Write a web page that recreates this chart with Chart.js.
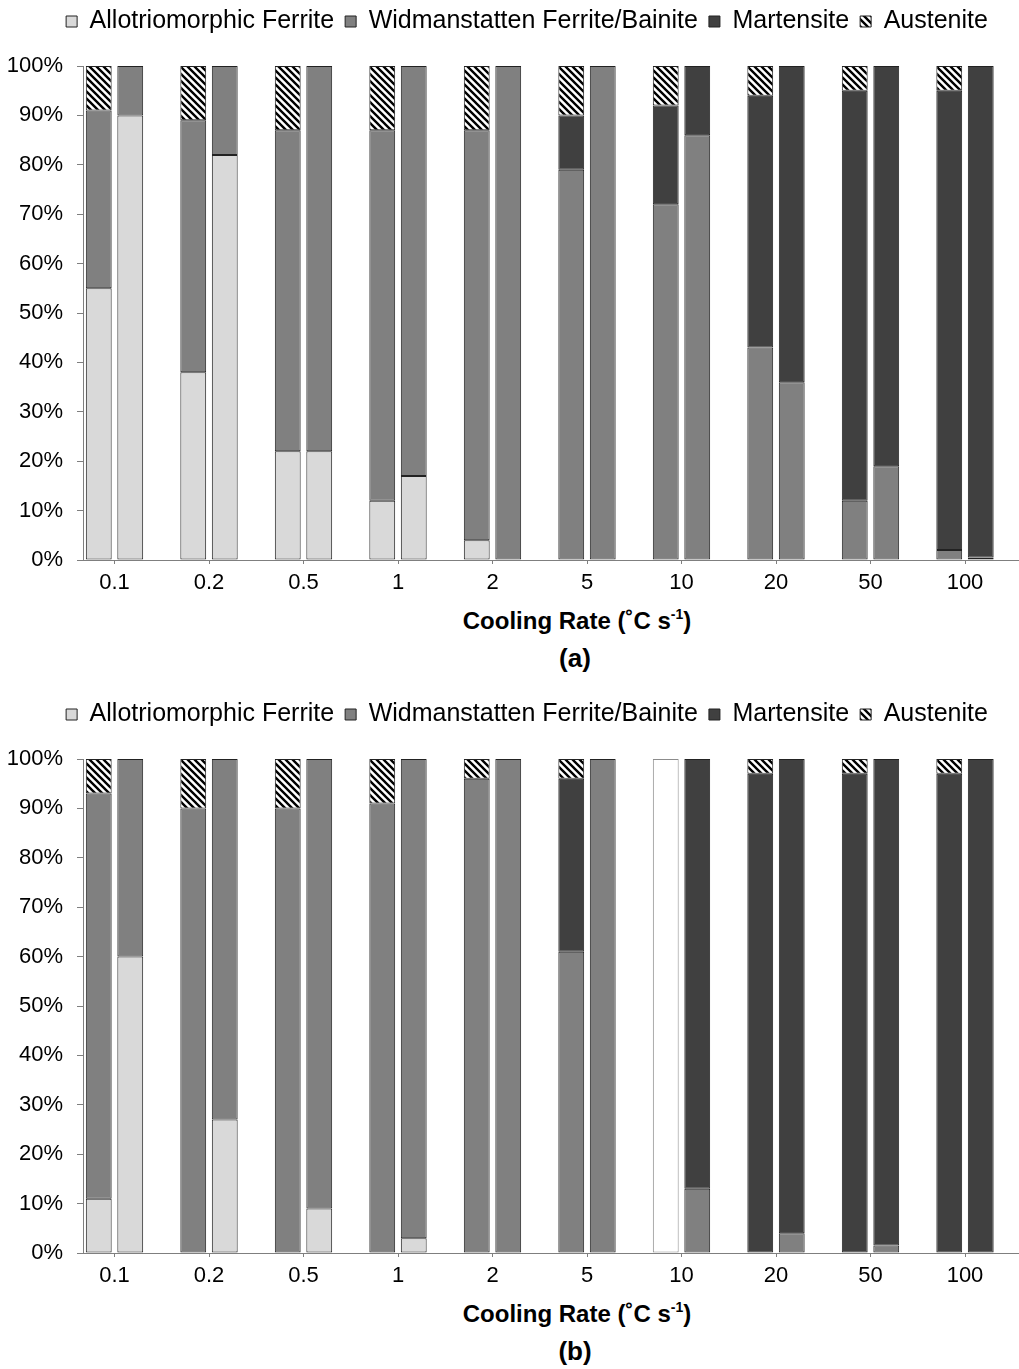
<!DOCTYPE html>
<html lang="en">
<head>
<meta charset="utf-8">
<title>Phase fractions versus cooling rate</title>
<script src="https://cdn.jsdelivr.net/npm/chart.js@4.4.1/dist/chart.umd.min.js"></script>
<style>
  html, body { margin: 0; padding: 0; background: #fff; }
  body { width: 1019px; height: 1369px; overflow: hidden; position: relative;
         font-family: "Liberation Sans", Arial, sans-serif; color: #000; }
  .panel { position: absolute; left: 0; width: 1030px; height: 693px; }
  .panel canvas { position: absolute; left: 0; top: -2px; }
  .axis-title { position: absolute; left: 0; width: 1154px; top: 606px; text-align: center;
                font-weight: bold; font-size: 24px; line-height: 30px; }
  .axis-title sup { font-size: 14px; line-height: 0; vertical-align: 10px; }
  .caption { position: absolute; left: 0; width: 1150px; top: 643px; text-align: center;
             font-weight: bold; font-size: 26px; line-height: 30px; }
</style>
</head>
<body>
<div class="panel" style="top:0px">
  <canvas id="chartA" width="1030" height="602"></canvas>
  <div class="axis-title">Cooling Rate (˚C s<sup>-1</sup>)</div>
  <div class="caption">(a)</div>
</div>
<div class="panel" style="top:693px">
  <canvas id="chartB" width="1030" height="602"></canvas>
  <div class="axis-title">Cooling Rate (˚C s<sup>-1</sup>)</div>
  <div class="caption">(b)</div>
</div>

<script>
// Cooling rates (°C/s) on the category axis
const coolingRates = ['0.1', '0.2', '0.5', '1', '2', '5', '10', '20', '50', '100'];
// Percentage tick labels on the value axis
const percentTicks = ['0%', '10%', '20%', '30%', '40%', '50%', '60%', '70%', '80%', '90%', '100%'];

// Panel (a) - left bar of each pair (phase fractions, %)
const aLeftAllotriomorphic = [55, 38, 22, 12, 4, 0, 0, 0, 0, 0];
const aLeftWidmanstatten   = [36, 51, 65, 75, 83, 79, 72, 43, 12, 2];
const aLeftMartensite      = [0, 0, 0, 0, 0, 11, 20, 51, 83, 93];
const aLeftAustenite       = [9, 11, 13, 13, 13, 10, 8, 6, 5, 5];
// Panel (a) - right bar of each pair
const aRightAllotriomorphic = [90, 82, 22, 17, 0, 0, 0, 0, 0, 0];
const aRightWidmanstatten   = [10, 18, 78, 83, 100, 100, 86, 36, 19, 0.5];
const aRightMartensite      = [0, 0, 0, 0, 0, 0, 14, 64, 81, 99.5];
const aRightAustenite       = [0, 0, 0, 0, 0, 0, 0, 0, 0, 0];

// Panel (b) - left bar of each pair
const bLeftAllotriomorphic = [11, 0, 0, 0, 0, 0, 0, 0, 0, 0];
const bLeftWidmanstatten   = [82, 90, 90, 91, 96, 61, 0, 0, 0, 0];
const bLeftMartensite      = [0, 0, 0, 0, 0, 35, 0, 97, 97, 97];
const bLeftAustenite       = [7, 10, 10, 9, 4, 4, 0, 3, 3, 3];
const bLeftNoData          = [0, 0, 0, 0, 0, 0, 100, 0, 0, 0];
// Panel (b) - right bar of each pair
const bRightAllotriomorphic = [60, 27, 9, 3, 0, 0, 0, 0, 0, 0];
const bRightWidmanstatten   = [40, 73, 91, 97, 100, 100, 13, 4, 1.5, 0];
const bRightMartensite      = [0, 0, 0, 0, 0, 0, 87, 96, 98.5, 100];
const bRightAustenite       = [0, 0, 0, 0, 0, 0, 0, 0, 0, 0];

const FONT = '"Liberation Sans", Arial, sans-serif';
const AXIS_COLOR = '#7f7f7f';
const EDGE_COLOR = '#222222';
const PLOT_LEFT = 83, PLOT_RIGHT = 1028;
const SLOTS_PER_RATE = 3;                       // left bar, right bar, spacer
const SLOT_WIDTH = (PLOT_RIGHT - PLOT_LEFT) / (coolingRates.length * SLOTS_PER_RATE);
const LEGEND_SHIFT_X = 13;

// Diagonal black/white hatch used for retained austenite
function makeHatch() {
  const s = 7;
  const c = document.createElement('canvas');
  c.width = s; c.height = s;
  const g = c.getContext('2d');
  g.fillStyle = '#fff';
  g.fillRect(0, 0, s, s);
  g.strokeStyle = '#000';
  g.lineWidth = 2.4;
  g.beginPath();
  g.moveTo(-1, -1); g.lineTo(s + 1, s + 1);
  g.moveTo(-1, s - 1); g.lineTo(1, s + 1);
  g.moveTo(s - 1, -1); g.lineTo(s + 1, 1);
  g.stroke();
  return g.createPattern(c, 'repeat');
}
const hatch = makeHatch();

// Interleave left/right values into slots: [left, right, gap] per cooling rate
function slots(left, right) {
  const out = [];
  left.forEach((v, i) => {
    out.push(v ? v : null, right && right[i] ? right[i] : null, null);
  });
  return out;
}
const slotLabels = coolingRates.flatMap(r => [r, '', '']);

function phaseDataset(label, left, right, fill, edge) {
  return {
    label: label,
    data: slots(left, right),
    backgroundColor: fill,
    borderColor: edge || EDGE_COLOR,
    borderWidth: 1,
    borderSkipped: false,
    barPercentage: 0.82,
    categoryPercentage: 1.0
  };
}

// Room between the legend row and the plot area, and a small horizontal nudge of the row
const legendLayout = {
  id: 'legendLayout',
  beforeInit(chart) {
    const legend = chart.legend;
    const fit = legend.fit;
    legend.fit = function () {
      fit.call(this);
      this.height += 22;
    };
    const draw = legend.draw;
    legend.draw = function () {
      const ctx = this.ctx;
      ctx.save();
      ctx.translate(LEGEND_SHIFT_X, 0);
      draw.call(this);
      ctx.restore();
    };
  }
};

function buildOptions() {
  return {
    responsive: false,
    animation: false,
    layout: { padding: { top: 0, right: 2, bottom: 0, left: 0 } },
    plugins: {
      legend: {
        position: 'top',
        labels: {
          font: { family: FONT, size: 25 },
          color: '#000',
          boxWidth: 11,
          boxHeight: 11,
          padding: 11,
          filter: item => item.text !== 'No data'
        }
      },
      tooltip: { enabled: false }
    },
    scales: {
      x: {
        type: 'category',
        stacked: true,
        offset: true,
        grid: {
          offset: true,
          drawOnChartArea: false,
          drawTicks: true,
          tickLength: 4,
          tickWidth: 1,
          tickColor: ctx => (ctx.index % SLOTS_PER_RATE === 1 ? AXIS_COLOR : 'rgba(0,0,0,0)')
        },
        border: { color: AXIS_COLOR, width: 1 },
        ticks: {
          autoSkip: false,
          maxRotation: 0,
          minRotation: 0,
          labelOffset: SLOT_WIDTH / 2,
          padding: 6,
          color: '#000',
          font: { family: FONT, size: 22 },
          callback: (value, index) => slotLabels[index]
        },
        afterFit: scale => { scale.height = 40; }
      },
      y: {
        stacked: true,
        min: 0,
        max: 100,
        grid: {
          drawOnChartArea: false,
          drawTicks: true,
          tickLength: 6,
          tickColor: AXIS_COLOR
        },
        border: { color: AXIS_COLOR, width: 1 },
        ticks: {
          stepSize: 10,
          padding: 14,
          color: '#000',
          font: { family: FONT, size: 22 },
          callback: value => percentTicks[Math.round(value / 10)]
        },
        afterFit: scale => { scale.width = PLOT_LEFT; }
      }
    }
  };
}

new Chart(document.getElementById('chartA'), {
  type: 'bar',
  data: {
    labels: slotLabels,
    datasets: [
      phaseDataset('Allotriomorphic Ferrite', aLeftAllotriomorphic, aRightAllotriomorphic, '#d9d9d9'),
      phaseDataset('Widmanstatten Ferrite/Bainite', aLeftWidmanstatten, aRightWidmanstatten, '#808080'),
      phaseDataset('Martensite', aLeftMartensite, aRightMartensite, '#404040'),
      phaseDataset('Austenite', aLeftAustenite, aRightAustenite, hatch)
    ]
  },
  options: buildOptions(),
  plugins: [legendLayout]
});

new Chart(document.getElementById('chartB'), {
  type: 'bar',
  data: {
    labels: slotLabels,
    datasets: [
      phaseDataset('Allotriomorphic Ferrite', bLeftAllotriomorphic, bRightAllotriomorphic, '#d9d9d9'),
      phaseDataset('Widmanstatten Ferrite/Bainite', bLeftWidmanstatten, bRightWidmanstatten, '#808080'),
      phaseDataset('Martensite', bLeftMartensite, bRightMartensite, '#404040'),
      phaseDataset('Austenite', bLeftAustenite, bRightAustenite, hatch),
      phaseDataset('No data', bLeftNoData, null, '#ffffff', '#8c8c8c')
    ]
  },
  options: buildOptions(),
  plugins: [legendLayout]
});
</script>
</body>
</html>
